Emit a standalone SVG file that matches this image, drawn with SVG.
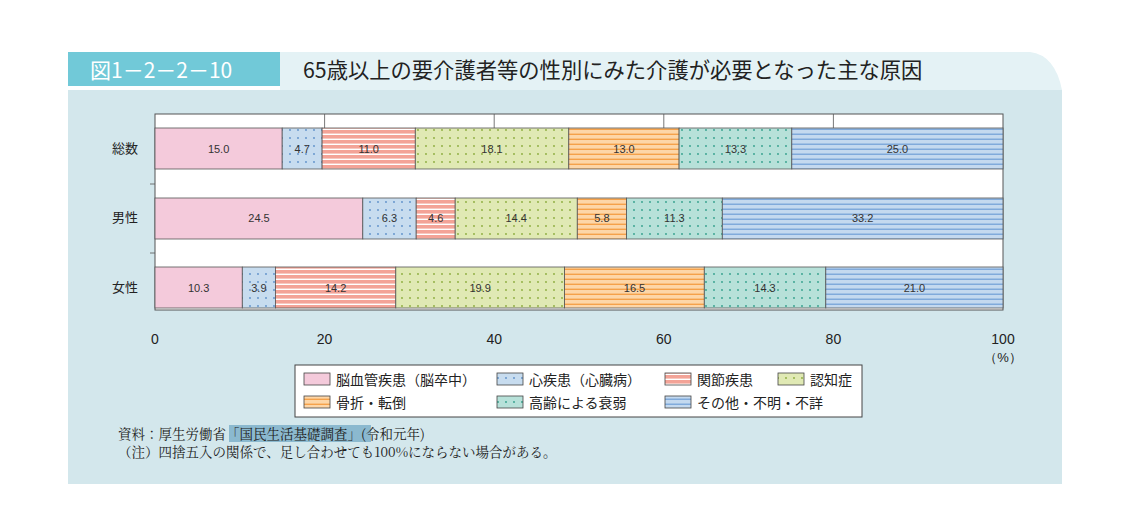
<svg xmlns="http://www.w3.org/2000/svg" width="1143" height="527" viewBox="0 0 1143 527">
<style>
.j{font-family:"Noto Sans CJK JP","Noto Sans",sans-serif;fill:#222}
.s{font-family:"Noto Serif CJK JP","Noto Sans CJK JP",serif;fill:#222;font-size:13.5px}
.v{font-family:"Liberation Sans",sans-serif;font-size:11px;fill:#333;text-anchor:middle}
.ax{font-family:"Liberation Sans",sans-serif;font-size:14px;fill:#222;text-anchor:middle}
.b{stroke:#555;stroke-width:0.8}
</style>
<defs>
<pattern id="pb" width="8" height="8" patternUnits="userSpaceOnUse"><rect width="8" height="8" fill="#c7dcef"/><circle cx="2" cy="2" r="0.9" fill="#5b8fc8"/></pattern>
<pattern id="pg" width="8" height="8" patternUnits="userSpaceOnUse"><rect width="8" height="8" fill="#e0e9b4"/><circle cx="2" cy="2" r="0.9" fill="#8aaa3a"/></pattern>
<pattern id="pt" width="8" height="8" patternUnits="userSpaceOnUse"><rect width="8" height="8" fill="#b7e1d9"/><circle cx="2" cy="2" r="0.9" fill="#2f9e8a"/></pattern>
<pattern id="pr" width="8" height="5" patternUnits="userSpaceOnUse"><rect width="8" height="5" fill="#f3a397"/><rect y="3.6" width="8" height="1.4" fill="#fff"/></pattern>
<pattern id="po" width="8" height="5" patternUnits="userSpaceOnUse"><rect width="8" height="5" fill="#fdd6a8"/><rect y="3.6" width="8" height="1.4" fill="#f5a14a"/></pattern>
<pattern id="pl" width="8" height="5" patternUnits="userSpaceOnUse"><rect width="8" height="5" fill="#c4d9ef"/><rect y="3.6" width="8" height="1.2" fill="#6f9fd6"/></pattern>
</defs>
<rect width="1143" height="527" fill="#fff"/>
<path d="M280 52 H1030 Q1055 55 1062 90 H280 Z" fill="#e4f2f5"/>
<rect x="68" y="90" width="994" height="394" fill="#d3e7ec"/>
<g id="header">
<rect x="68" y="52" width="212" height="34" fill="#71c9d8"/>
<text x="90" y="78" class="j" font-size="21" style="fill:#fff">図1－2－2－10</text>
<text x="303" y="78" class="j" font-size="21.3">65歳以上の要介護者等の性別にみた介護が必要となった主な原因</text>
</g>
<g id="plot">
<rect x="155" y="114" width="848" height="196" fill="#fff" stroke="#555" stroke-width="1"/>
<g stroke="#555" stroke-width="0.8"><line x1="324.6" y1="114" x2="324.6" y2="128"/><line x1="494.2" y1="114" x2="494.2" y2="128"/><line x1="663.8" y1="114" x2="663.8" y2="128"/><line x1="833.4" y1="114" x2="833.4" y2="128"/>
<line x1="150" y1="184" x2="155" y2="184"/><line x1="150" y1="253" x2="155" y2="253"/></g>
</g>
<g id="bar-total">
<rect class="b" x="155" y="128" width="127.2" height="41" fill="#f4cadb"/>
<rect class="b" x="282.2" y="128" width="39.9" height="41" fill="url(#pb)"/>
<rect class="b" x="322.1" y="128" width="93.2" height="41" fill="url(#pr)"/>
<rect class="b" x="415.3" y="128" width="153.5" height="41" fill="url(#pg)"/>
<rect class="b" x="568.8" y="128" width="110.3" height="41" fill="url(#po)"/>
<rect class="b" x="679.1" y="128" width="112.7" height="41" fill="url(#pt)"/>
<rect class="b" x="791.8" y="128" width="211.2" height="41" fill="url(#pl)"/>
<text class="v" x="218.6" y="153">15.0</text><text class="v" x="302.2" y="153">4.7</text><text class="v" x="368.7" y="153">11.0</text><text class="v" x="492" y="153">18.1</text><text class="v" x="624" y="153">13.0</text><text class="v" x="735.5" y="153">13.3</text><text class="v" x="897.4" y="153">25.0</text>
</g>
<g id="bar-male">
<rect class="b" x="155" y="198" width="207.8" height="41" fill="#f4cadb"/>
<rect class="b" x="362.8" y="198" width="53.4" height="41" fill="url(#pb)"/>
<rect class="b" x="416.2" y="198" width="39" height="41" fill="url(#pr)"/>
<rect class="b" x="455.2" y="198" width="122.1" height="41" fill="url(#pg)"/>
<rect class="b" x="577.3" y="198" width="49.2" height="41" fill="url(#po)"/>
<rect class="b" x="626.5" y="198" width="95.8" height="41" fill="url(#pt)"/>
<rect class="b" x="722.3" y="198" width="280.7" height="41" fill="url(#pl)"/>
<text class="v" x="259" y="222">24.5</text><text class="v" x="389.5" y="222">6.3</text><text class="v" x="435.7" y="222">4.6</text><text class="v" x="516.2" y="222">14.4</text><text class="v" x="601.9" y="222">5.8</text><text class="v" x="674.4" y="222">11.3</text><text class="v" x="862.6" y="222">33.2</text>
</g>
<g id="bar-female">
<rect class="b" x="155" y="267" width="87.3" height="41" fill="#f4cadb"/>
<rect class="b" x="242.3" y="267" width="33.1" height="41" fill="url(#pb)"/>
<rect class="b" x="275.4" y="267" width="120.4" height="41" fill="url(#pr)"/>
<rect class="b" x="395.8" y="267" width="168.8" height="41" fill="url(#pg)"/>
<rect class="b" x="564.6" y="267" width="139.7" height="41" fill="url(#po)"/>
<rect class="b" x="704.3" y="267" width="121.5" height="41" fill="url(#pt)"/>
<rect class="b" x="825.8" y="267" width="177.2" height="41" fill="url(#pl)"/>
<text class="v" x="198.6" y="292">10.3</text><text class="v" x="258.9" y="292">3.9</text><text class="v" x="335.6" y="292">14.2</text><text class="v" x="480.2" y="292">19.9</text><text class="v" x="634.5" y="292">16.5</text><text class="v" x="765" y="292">14.3</text><text class="v" x="914.4" y="292">21.0</text>
</g>
<g id="labels">
<text x="112" y="153" class="j" font-size="13">総数</text>
<text x="112" y="222" class="j" font-size="13">男性</text>
<text x="112" y="292" class="j" font-size="13">女性</text>
<text class="ax" x="155" y="344">0</text><text class="ax" x="324.6" y="344">20</text><text class="ax" x="494.2" y="344">40</text><text class="ax" x="663.8" y="344">60</text><text class="ax" x="833.4" y="344">80</text><text class="ax" x="1003" y="344">100</text>
<text class="ax" x="1003" y="362" style="font-size:13px">（%）</text>
</g>
<g id="legend">
<rect x="295" y="365" width="567" height="52" fill="#fff" stroke="#444"/>
<g stroke="#444" stroke-width="0.8">
<rect x="304" y="373" width="26" height="12" fill="#f4cadb"/>
<rect x="497" y="373" width="26" height="12" fill="url(#pb)"/>
<rect x="665" y="373" width="26" height="12" fill="url(#pr)"/>
<rect x="778" y="373" width="26" height="12" fill="url(#pg)"/>
<rect x="304" y="396" width="26" height="12" fill="url(#po)"/>
<rect x="497" y="396" width="26" height="12" fill="url(#pt)"/>
<rect x="665" y="396" width="26" height="12" fill="url(#pl)"/>
</g>
<g class="j" font-size="14">
<text x="336" y="385">脳血管疾患（脳卒中）</text>
<text x="529" y="385">心疾患（心臓病）</text>
<text x="697" y="385">関節疾患</text>
<text x="810" y="385">認知症</text>
<text x="336" y="408">骨折・転倒</text>
<text x="529" y="408">高齢による衰弱</text>
<text x="697" y="408">その他・不明・不詳</text>
</g>
</g>
<g id="footer">
<rect x="229" y="425" width="142" height="17" fill="#8bb9cf"/>
<text x="118" y="439" class="s">資料：厚生労働省「国民生活基礎調査」(令和元年)</text>
<text x="118" y="457" class="s">（注）四捨五入の関係で、足し合わせても100%にならない場合がある。</text>
</g>
</svg>
